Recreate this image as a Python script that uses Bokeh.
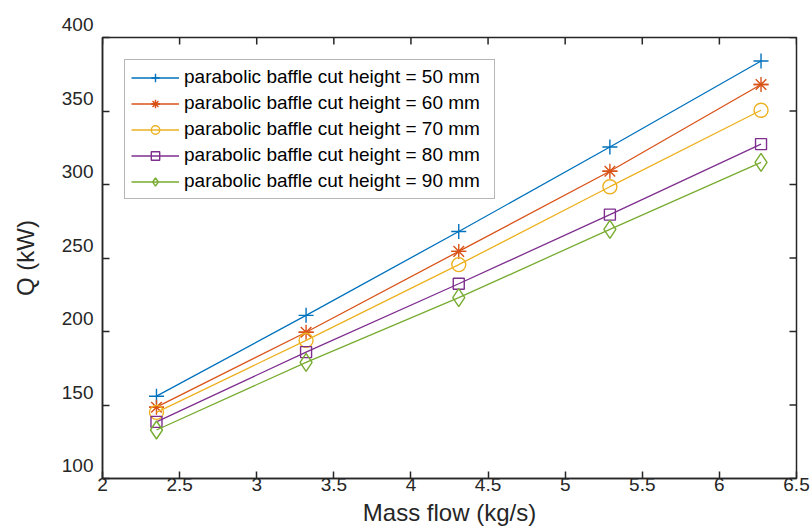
from bokeh.plotting import figure
from bokeh.models import Legend, LegendItem, FixedTicker, Range1d
from bokeh.embed import file_html
from bokeh.resources import INLINE

# ---- data ----
mass_flow = [2.35, 3.32, 4.31, 5.29, 6.27]
q_50 = [156.0, 211.0, 268.0, 325.5, 384.0]
q_60 = [148.5, 199.5, 254.5, 309.0, 368.0]
q_70 = [145.0, 194.0, 245.5, 298.5, 350.5]
q_80 = [138.5, 186.0, 232.5, 279.5, 327.5]
q_90 = [133.0, 179.0, 223.0, 269.5, 315.0]
series_names = ["parabolic baffle cut height = 50 mm",
                "parabolic baffle cut height = 60 mm",
                "parabolic baffle cut height = 70 mm",
                "parabolic baffle cut height = 80 mm",
                "parabolic baffle cut height = 90 mm"]
x_ticks = [2, 2.5, 3, 3.5, 4, 4.5, 5, 5.5, 6, 6.5]
x_tick_labels = ["2", "2.5", "3", "3.5", "4", "4.5", "5", "5.5", "6", "6.5"]
y_ticks = [100, 150, 200, 250, 300, 350, 400]
y_tick_labels = ["100", "150", "200", "250", "300", "350", "400"]

colors = ["#0072BD", "#D95319", "#EDB120", "#7E2F8E", "#77AC30"]
FONT = "Liberation Sans"
DARK = "#262626"

p = figure(width=810, height=529, output_backend="svg", toolbar_location=None,
           x_range=Range1d(2, 6.5), y_range=Range1d(100, 400),
           min_border_left=102, min_border_right=14, min_border_top=37,
           min_border_bottom=51)
p.xgrid.visible = False
p.ygrid.visible = False
p.outline_line_color = DARK
p.outline_line_width = 1.5
p.background_fill_color = "white"


def style_axis(ax, ticks, labels):
    ax.ticker = FixedTicker(ticks=ticks)
    ax.minor_tick_line_color = None
    ax.major_tick_in = 7
    ax.major_tick_out = 0
    ax.axis_line_color = DARK
    ax.axis_line_width = 1.5
    ax.major_tick_line_color = DARK
    ax.major_tick_line_width = 1.5
    ax.major_label_text_font = FONT
    ax.major_label_text_font_size = "19px"
    ax.major_label_text_color = DARK
    ax.major_label_overrides = {t: l for t, l in zip(ticks, labels)}
    ax.axis_label_text_font = FONT
    ax.axis_label_text_font_size = "24px"
    ax.axis_label_text_font_style = "normal"
    ax.axis_label_text_color = DARK


xa = p.xaxis[0]
ya = p.yaxis[0]
style_axis(xa, x_ticks, x_tick_labels)
style_axis(ya, y_ticks, [l + "\n" for l in y_tick_labels])
xa.major_label_standoff = -1
xa.axis_label = "Mass flow (kg/s)"
xa.axis_label_standoff = 5
ya.major_label_standoff = 9
ya.axis_label = "Q (kW)"
ya.axis_label_standoff = 20

# inward tick marks on the top and right edges of the box (clipped to frame)
p.scatter(x_ticks, [y_ticks[-1]] * len(x_ticks), marker="dash", angle=90,
          angle_units="deg", size=14, line_color=DARK, line_width=1.5)
p.scatter([x_ticks[-1]] * len(y_ticks), y_ticks, marker="dash", size=14,
          line_color=DARK, line_width=1.5)

all_q = [q_50, q_60, q_70, q_80, q_90]
items = []
for i, (q, c, name) in enumerate(zip(all_q, colors, series_names)):
    rs = [p.line(mass_flow, q, line_color=c, line_width=1.3)]
    if i == 0:
        rs.append(p.scatter(mass_flow, q, marker="cross", size=15,
                            line_color=c, line_width=1.4))
    elif i == 1:
        rs.append(p.scatter(mass_flow, q, marker="asterisk", size=15,
                            line_color=c, line_width=1.4))
        rs.append(p.scatter(mass_flow, q, marker="dash", size=15,
                            line_color=c, line_width=1.4))
    elif i == 2:
        rs.append(p.scatter(mass_flow, q, marker="circle", size=14,
                            line_color=c, fill_color=None, line_width=1.4))
    elif i == 3:
        rs.append(p.scatter(mass_flow, q, marker="square", size=11,
                            line_color=c, fill_color=None, line_width=1.4))
    else:
        rs.append(p.scatter(mass_flow, q, marker="diamond", size=18,
                            line_color=c, fill_color=None, line_width=1.4))
    items.append(LegendItem(label=name, renderers=rs))

legend = Legend(items=items, location=(22, 279))
legend.label_text_font = FONT
legend.label_text_font_size = "19px"
legend.label_text_color = "black"
legend.glyph_width = 48
legend.glyph_height = 21
legend.label_height = 21
legend.label_width = 304
legend.spacing = 4
legend.padding = 6
legend.margin = 0
legend.label_standoff = 5
legend.border_line_color = "#6e6e6e"
legend.border_line_width = 1.2
legend.background_fill_color = "white"
legend.background_fill_alpha = 0.0
p.add_layout(legend, "center")

open("out.html", "w").write(file_html(p, INLINE))
